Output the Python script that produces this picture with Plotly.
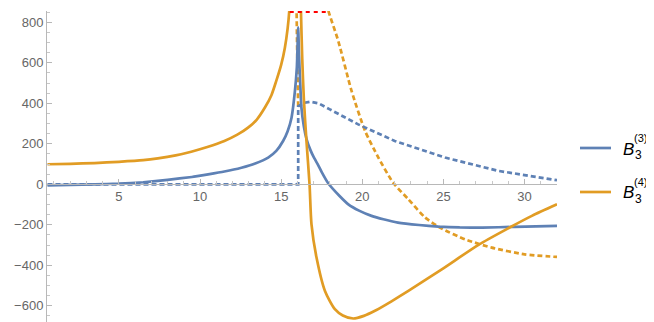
import plotly.graph_objects as go

# B3^(3), solid
b3_3_x = [0.6, 2, 3.5, 5, 6.5, 8, 9.5, 10.5, 11.5, 12.55, 13.4, 14.2, 14.7, 15.12, 15.4,
          15.64, 15.85, 15.97, 16.05, 16.1, 16.15, 16.25, 16.4, 16.56, 16.8, 17.0, 17.28,
          17.5, 17.9, 18.6, 19.14, 19.8, 20.57, 21.3, 22.2, 23.5, 24.7, 26, 27.4, 29.4, 32]
b3_3_y = [-5, -3, 0, 3, 10, 22, 36, 49, 63, 82, 103, 132, 165, 214, 262,
          329, 461, 580, 775, 640, 543, 379, 285, 225, 170, 135, 95,
          60, 5, -58, -99, -130, -156, -173, -189, -201, -209, -213, -214, -210, -205]

# B3^(3), dotted
b3_3d_x = [0.6, 16.05, 16.05, 16.4, 16.8, 17.3, 18.0, 19.75, 22.0, 25.1, 28.4, 32]
b3_3d_y = [0, 0, 385, 402, 408, 400, 370, 296, 214, 132, 66, 20]

# B3^(4), solid (two branches around the pole)
b3_4_left_x = [0.6, 2, 3.5, 5, 6.5, 7.4, 8.5, 9.46, 10.5, 11.5, 12.3, 12.96, 13.5, 14.0,
               14.4, 14.7, 15.0, 15.23, 15.4, 15.5, 15.58]
b3_4_left_y = [99, 101, 105, 111, 119, 128, 143, 161, 185, 214, 245, 280, 320, 379,
               440, 511, 590, 675, 770, 856, 1000]
b3_4_right_x = [16.18, 16.22, 16.3, 16.4, 16.56, 16.75, 16.87, 17.18, 17.7, 18.31, 18.8,
                19.44, 20.1, 20.78, 21.8, 22.84, 24.9, 27.16, 29.0, 30.45, 32]
b3_4_right_y = [1000, 855, 620, 420, 214, 0, -198, -362, -527, -617, -648,
                -663, -650, -625, -578, -527, -420, -299, -217, -156, -99]

# B3^(4), dotted
b3_4d_x = [16.05, 16.05, 17.0, 17.5, 17.9, 18.52, 19.34, 20.17, 20.99, 21.9, 22.84,
           23.87, 24.9, 26.34, 27.98, 30, 32]
b3_4d_y = [385, 1400, 1150, 1000, 860, 708, 461, 264, 132, 8, -74,
           -164, -219, -272, -313, -346, -359]

# red dashed cap
cap_x = [15.53, 18.0]
cap_y = [853, 853]

labels = ["3", "4"]

BLUE = "#5E81B5"
ORANGE = "#E19C24"
RED = "#FF0000"
X_RANGE = [0.57, 32.0]
Y_RANGE = [-700, 856]
LW = 2.7

fig = go.Figure()
fig.add_trace(go.Scatter(x=b3_4d_x, y=b3_4d_y, mode="lines",
                         line=dict(color=ORANGE, width=LW, dash="5px,3px",
                                   shape="spline", smoothing=0.6)))
fig.add_trace(go.Scatter(x=b3_3d_x, y=b3_3d_y, mode="lines",
                         line=dict(color=BLUE, width=LW, dash="5px,3px")))
fig.add_trace(go.Scatter(x=b3_3_x, y=b3_3_y, mode="lines",
                         line=dict(color=BLUE, width=LW, shape="spline", smoothing=0.4)))
fig.add_trace(go.Scatter(x=b3_4_left_x, y=b3_4_left_y, mode="lines",
                         line=dict(color=ORANGE, width=LW, shape="spline", smoothing=0.7)))
fig.add_trace(go.Scatter(x=b3_4_right_x, y=b3_4_right_y, mode="lines",
                         line=dict(color=ORANGE, width=LW, shape="spline", smoothing=0.7)))
fig.add_trace(go.Scatter(x=cap_x, y=cap_y, mode="lines",
                         line=dict(color=RED, width=LW, dash="4px,4px")))

W, H = 654, 322
ML, MR, MT, MB = 39, 105, 3, 4
pw, ph = W - ML - MR, H - MT - MB


def px(x):
    return (x - ML) / pw


def py(y):
    return 1 - (y - MT) / ph


# hand-built legend with stacked sub/superscripts
shapes = []
annotations = []
for i, lab in enumerate(labels):
    row = 140 + 44 * i
    color = [BLUE, ORANGE][i]
    shapes.append(dict(type="line", xref="paper", yref="paper",
                       x0=px(572), x1=px(603), y0=py(row), y1=py(row),
                       line=dict(color=color, width=LW)))
    annotations.append(dict(xref="paper", yref="paper", x=px(613), y=py(row + 1),
                            text="<i>B</i>", showarrow=False, xanchor="left",
                            yanchor="middle", font=dict(size=17, color="#000")))
    annotations.append(dict(xref="paper", yref="paper", x=px(625), y=py(row + 7),
                            text="3", showarrow=False, xanchor="left",
                            yanchor="middle", font=dict(size=12, color="#000")))
    annotations.append(dict(xref="paper", yref="paper", x=px(624), y=py(row - 10),
                            text="(" + lab + ")", showarrow=False, xanchor="left",
                            yanchor="middle", font=dict(size=11, color="#000")))

fig.update_layout(
    width=W, height=H,
    showlegend=False,
    margin=dict(l=ML, r=MR, t=MT, b=MB),
    paper_bgcolor="white",
    plot_bgcolor="white",
    font=dict(family="Liberation Sans, Arial, sans-serif", size=13, color="#666"),
    shapes=shapes,
    annotations=annotations,
    xaxis=dict(range=X_RANGE, showgrid=False, zeroline=False, showline=True,
               linecolor="#b8b8b8", linewidth=1, anchor="free",
               position=(0 - Y_RANGE[0]) / (Y_RANGE[1] - Y_RANGE[0]),
               tick0=0, dtick=5, ticks="inside", ticklen=5, tickcolor="#b8b8b8",
               minor=dict(dtick=1, ticks="inside", ticklen=3, tickcolor="#c8c8c8")),
    yaxis=dict(range=Y_RANGE, showgrid=False, zeroline=False, showline=True,
               linecolor="#b8b8b8", linewidth=1,
               tick0=0, dtick=200, ticks="inside", ticklen=5, tickcolor="#b8b8b8",
               minor=dict(dtick=50, ticks="inside", ticklen=3, tickcolor="#c8c8c8")),
)

fig.write_html("out.html")
